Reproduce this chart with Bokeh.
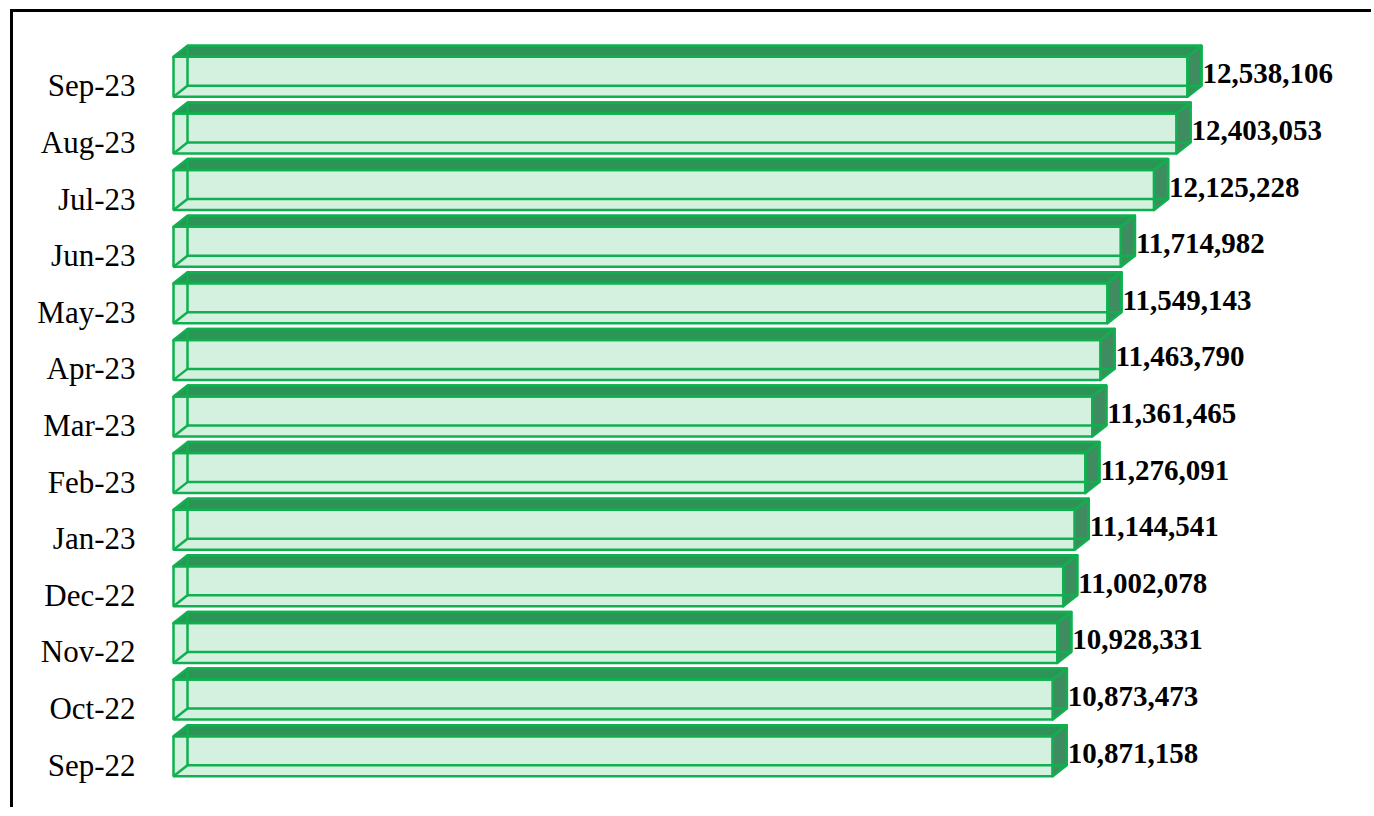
from bokeh.plotting import figure
from bokeh.models import FactorRange, Range1d
from bokeh.core.properties import value
from bokeh.embed import file_html
from bokeh.resources import INLINE

# ---- data (bottom to top) ----
months = ["Sep-22", "Oct-22", "Nov-22", "Dec-22", "Jan-23", "Feb-23", "Mar-23",
          "Apr-23", "May-23", "Jun-23", "Jul-23", "Aug-23", "Sep-23"]
counts = [10871158, 10873473, 10928331, 11002078, 11144541, 11276091, 11361465,
          11463790, 11549143, 11714982, 12125228, 12403053, 12538106]
count_labels = ["{:,}".format(v) for v in counts]

# ---- styling / geometry ----
EDGE = "#10B050"
FRONT = "#D4F0DF"
TOP = "#2E9357"
SIDE = "#3E8C60"
LW = 2.5

p = figure(width=1361, height=798, output_backend="svg", toolbar_location=None,
           x_axis_location=None,
           y_range=FactorRange(factors=months, range_padding=0.3, range_padding_units="absolute"),
           x_range=Range1d(-37100, 14851000),
           min_border_left=157, min_border_right=0, min_border_top=28, min_border_bottom=0)
p.styles = {"box-shadow": "-3px -3px 0px 0px black",
            "margin-left": "13px", "margin-top": "12px"}
p.outline_line_color = None
p.xgrid.visible = False
p.ygrid.visible = False
p.background_fill_color = "white"
p.border_fill_color = "white"

dx = 173100.0   # depth offset in x (data units)
dy = 0.1943     # depth offset in y (category units)
lo = 0.1943     # front face bottom below category centre
hi = 0.5122     # front face top above category centre

cs = [i + 0.5 for i in range(len(months))]
yb = [c - lo for c in cs]
yt = [c + hi for c in cs]
zeros = [0] * len(counts)

# front face fill
p.quad(left=zeros, right=counts, bottom=yb, top=yt, fill_color=FRONT, line_color=None)

# top faces
top_xs = [[0, dx, v + dx, v] for v in counts]
top_ys = [[t, t + dy, t + dy, t] for t in yt]
p.patches(top_xs, top_ys, fill_color=TOP, line_color=EDGE, line_width=LW, line_join="round")

# right faces
side_xs = [[v, v, v + dx, v + dx] for v in counts]
side_ys = [[b, t, t + dy, b + dy] for b, t in zip(yb, yt)]
p.patches(side_xs, side_ys, fill_color=SIDE, line_color=EDGE, line_width=LW, line_join="round")

# back face edges (seen through the front)
p.quad(left=[dx] * len(counts), right=[v + dx for v in counts],
       bottom=[b + dy for b in yb], top=[t + dy for t in yt],
       fill_color=None, line_color=EDGE, line_width=LW)
# bottom-left depth edges
p.segment(x0=zeros, y0=yb, x1=[dx] * len(counts), y1=[b + dy for b in yb],
          line_color=EDGE, line_width=LW)

# front face outline
p.quad(left=zeros, right=counts, bottom=yb, top=yt, fill_color=None,
       line_color=EDGE, line_width=LW)

# value labels
p.text(x=counts, y=[c + 0.212 for c in cs], text=count_labels, x_offset=15,
       text_baseline="middle", text_align="left",
       text_font=value("Liberation Serif"), text_font_style="bold",
       text_font_size="29px", text_color="black")

ax = p.yaxis[0]
ax.axis_line_color = None
ax.major_tick_line_color = None
ax.minor_tick_line_color = None
ax.major_tick_out = 0
ax.major_tick_in = 0
ax.major_label_standoff = 35
ax.major_label_text_font = "Liberation Serif"
ax.major_label_text_font_size = "31px"
ax.major_label_text_color = "black"

open("out.html", "w").write(file_html(p, INLINE))
